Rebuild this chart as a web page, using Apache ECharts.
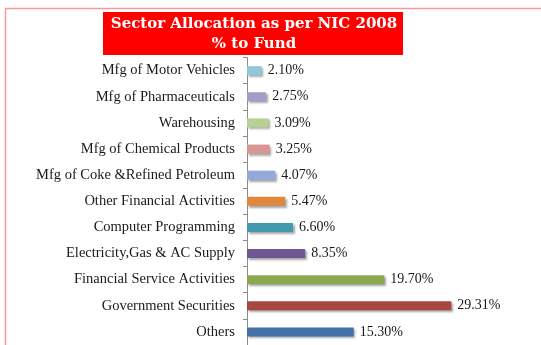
<!DOCTYPE html>
<html>
<head>
<meta charset="utf-8">
<script src="https://cdn.jsdelivr.net/npm/echarts@6/dist/echarts.min.js"></script>
<style>
  html, body { margin: 0; padding: 0; background: #fff; }
  #chart { width: 541px; height: 345px; }
</style>
</head>
<body>
<div id="chart"></div>
<script>
// Sectors, top to bottom
const categories = [
  'Mfg of Motor Vehicles',
  'Mfg of Pharmaceuticals',
  'Warehousing',
  'Mfg of Chemical Products',
  'Mfg of Coke &Refined Petroleum',
  'Other Financial Activities',
  'Computer Programming',
  'Electricity,Gas & AC Supply',
  'Financial Service Activities',
  'Government Securities',
  'Others'
];
// Percentage of fund per sector
const values = [2.10, 2.75, 3.09, 3.25, 4.07, 5.47, 6.60, 8.35, 19.70, 29.31, 15.30];
const barColors = [
  '#93C6D9', '#A99BC7', '#B7D195', '#D99695', '#94AADB', '#E0883D',
  '#4399AE', '#6E5891', '#8BA84F', '#A94644', '#4571A9'
];
const titleLines = ['Sector Allocation as per NIC 2008', '% to Fund'];

const chart = echarts.init(document.getElementById('chart'), null, { renderer: 'canvas' });

const serif = '"Liberation Serif", "Times New Roman", serif';

chart.setOption({
  animation: false,
  backgroundColor: '#ffffff',
  grid: { left: 247, right: 50, top: 57.6, bottom: 0, containLabel: false },
  xAxis: {
    type: 'value',
    min: 0,
    max: 35,
    show: false
  },
  yAxis: {
    type: 'category',
    inverse: true,
    data: categories,
    axisLine: { show: true, lineStyle: { color: '#8c8c8c', width: 1 } },
    axisTick: { show: true, length: 4, lineStyle: { color: '#8c8c8c' } },
    axisLabel: { fontFamily: serif, fontSize: 14.5, color: '#1a1a1a', margin: 12 },
    splitLine: { show: false }
  },
  series: [{
    type: 'bar',
    data: values.map((v, i) => ({
      value: v,
      itemStyle: { color: barColors[i] }
    })),
    barWidth: 9,
    itemStyle: {
      shadowColor: 'rgba(0,0,0,0.35)',
      shadowBlur: 2,
      shadowOffsetX: 1.5,
      shadowOffsetY: 2
    },
    label: {
      show: true,
      position: 'right',
      distance: 6,
      fontFamily: serif,
      fontSize: 14,
      color: '#1a1a1a',
      formatter: p => p.value.toFixed(2) + '%'
    }
  }],
  graphic: [
    {
      type: 'rect',
      silent: true,
      shape: { x: 5.5, y: 8.5, width: 700, height: 500 },
      style: { fill: 'none', stroke: '#F39A9A', lineWidth: 1.5 },
      z: 0
    },
    {
      type: 'rect',
      silent: true,
      shape: { x: 103, y: 12, width: 300, height: 43 },
      style: { fill: '#FF0000' },
      z: 10
    },
    {
      type: 'text',
      silent: true,
      x: 254,
      y: 34,
      style: {
        text: titleLines.join('\n'),
        fill: '#ffffff',
        font: 'bold 15px "DejaVu Serif", serif',
        lineHeight: 20,
        align: 'center',
        verticalAlign: 'middle'
      },
      z: 11
    }
  ]
});
</script>
</body>
</html>
